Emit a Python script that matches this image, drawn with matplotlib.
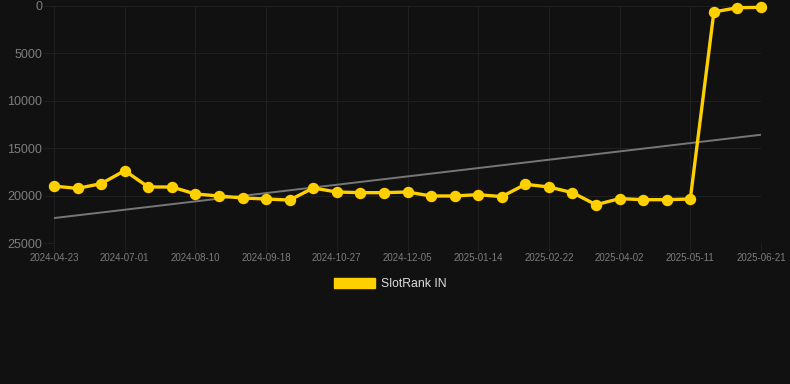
import matplotlib
matplotlib.use("Agg")
import matplotlib.pyplot as plt
import numpy as np
from matplotlib.patches import Patch

plt.rcParams["font.family"] = ["Liberation Sans", "DejaVu Sans"]

dates = [
    "2024-04-23", "2024-06-06", "2024-06-18", "2024-07-01", "2024-07-14", "2024-07-27",
    "2024-08-10", "2024-08-23", "2024-09-05", "2024-09-18", "2024-10-01", "2024-10-14",
    "2024-10-27", "2024-11-09", "2024-11-22", "2024-12-05", "2024-12-18", "2025-01-01",
    "2025-01-14", "2025-01-27", "2025-02-09", "2025-02-22", "2025-03-07", "2025-03-20",
    "2025-04-02", "2025-04-15", "2025-04-28", "2025-05-11", "2025-05-24", "2025-06-08",
    "2025-06-21",
]
rank = [
    19000, 19240, 18740, 17370, 19090, 19090, 19830, 20040, 20250, 20360, 20470,
    19200, 19620, 19690, 19690, 19620, 20040, 20040, 19900, 20110, 18810, 19090,
    19690, 20960, 20320, 20430, 20430, 20360, 630, 180, 140,
]
trend_start, trend_end = 22370, 13580
series_label = "SlotRank IN"
yticks = [0, 5000, 10000, 15000, 20000, 25000]

bg = "#111111"
gold = "#FFD000"

fig = plt.figure(figsize=(7.9, 3.84), dpi=100, facecolor=bg)
ax = fig.add_axes([54 / 790, 1 - 243 / 384, (761 - 54) / 790, (243 - 6) / 384])
ax.set_facecolor(bg)

x = np.arange(len(rank))
ax.plot([x[0], x[-1]], [trend_start, trend_end], color="#777777", lw=1.4, zorder=2)
ax.plot(x, rank, color=gold, lw=2.4, marker="o", markersize=7.2,
        markerfacecolor=gold, markeredgecolor=gold, zorder=3, clip_on=False)

ax.set_xlim(0, len(rank) - 1)
ax.set_ylim(25000, 0)
ax.set_yticks(yticks)
ax.set_yticklabels([str(v) for v in yticks])
tick_idx = list(range(0, len(rank), 3))
ax.set_xticks(tick_idx)
ax.set_xticklabels([dates[i] for i in tick_idx])

ax.grid(True, color="#1f1f1f", lw=0.8)
ax.set_axisbelow(True)
for s in ax.spines.values():
    s.set_visible(False)
ax.tick_params(axis="y", colors="#1f1f1f", labelcolor="#7d7d7d", labelsize=9,
               length=7.5, width=0.8, pad=1)
ax.tick_params(axis="x", colors="#1f1f1f", labelcolor="#7d7d7d", labelsize=7,
               length=5.5, width=0.8, pad=1.5)

handle = Patch(facecolor=gold, edgecolor=gold)
fig.legend([handle], [series_label], loc="center", bbox_to_anchor=(390 / 790, 1 - 284 / 384),
           frameon=False, labelcolor="#dddddd", fontsize=8.8, handlelength=3.4,
           handleheight=0.95, handletextpad=0.45)

fig.savefig("out.png", dpi=100, facecolor=bg)
